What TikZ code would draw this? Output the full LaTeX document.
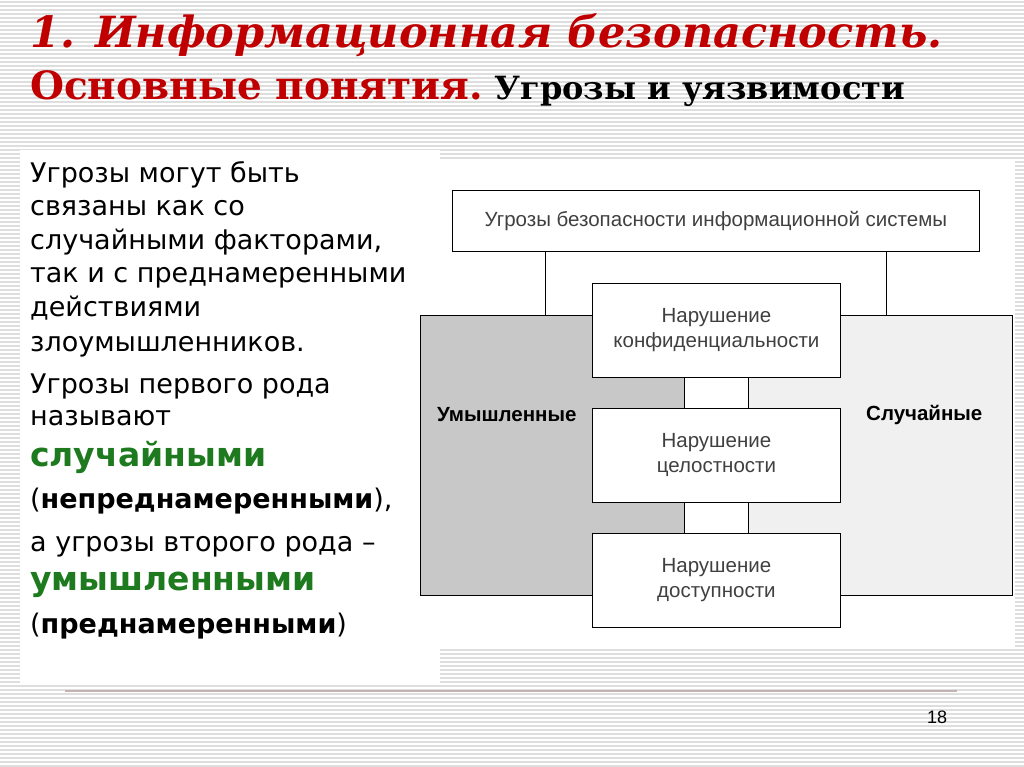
\documentclass[tikz,border=0pt]{standalone}
\usepackage{fontspec}
\setmainfont{DejaVu Serif}
\newfontfamily\djfont{DejaVu Sans}
\newfontfamily\lsfont{Liberation Sans}
\definecolor{tred}{HTML}{C00000}
\definecolor{tgreen}{HTML}{1E7A1E}
\definecolor{dgray}{HTML}{C8C8C8}
\definecolor{lgray}{HTML}{F0F0F0}
\begin{document}
\begin{tikzpicture}[x=1pt,y=-1pt,
  bx/.style={draw=black,line width=0.8pt,fill=white,inner sep=0pt},
  lbl/.style={font=\lsfont\fontsize{20.5}{25}\selectfont,text=black!75,align=center},
  tl/.style={anchor=base west,inner sep=0pt,font=\djfont\fontsize{27}{33}\selectfont},
  gr/.style={anchor=base west,inner sep=0pt,font=\djfont\bfseries\fontsize{33}{38}\selectfont,text=tgreen},
  ln/.style={line width=0.8pt}]
\useasboundingbox (0,0) rectangle (1024,767);
\fill[white] (0,0) rectangle (1024,767);
\foreach \y in {2,6,...,766} \draw[black!13,line width=1.2pt] (0,\y) -- (1024,\y);
\fill[white] (20,150) rectangle (440,683);
\fill[white] (405,160) rectangle (1015,648);
% title
\node[anchor=base west,inner sep=0pt,text=tred,font=\fontsize{43}{46}\selectfont\bfseries\itshape] (t1) at (30,48) {1. Информационная безопасность.};
\node[anchor=base west,inner sep=0pt,text=tred,font=\fontsize{39}{44}\selectfont\bfseries] (t2) at (30,100) {Основные понятия.};
\node[anchor=base west,inner sep=0pt,font=\fontsize{32}{36}\selectfont\bfseries] (t3) at (t2.base east) {\ Угрозы и уязвимости};
% left text
\begin{scope}
\clip (20,150) rectangle (440,683);
\node[tl] (l1) at (30,183) {Угрозы могут быть};
\node[tl] (l2) at (30,216) {связаны как со};
\node[tl] (l3) at (30,249) {случайными факторами,};
\node[tl] (l4) at (30,282) {так и с преднамеренными};
\node[tl] (l5) at (30,316) {действиями};
\node[tl] (l6) at (30,351) {злоумышленников.};
\node[tl] (l7) at (30,393) {Угрозы первого рода};
\node[tl] (l8) at (30,425) {называют};
\node[gr] (l9) at (30,466) {случайными};
\node[tl] (l10) at (30,508) {({\bfseries непреднамеренными}),};
\node[tl] (l11) at (30,551) {а угрозы второго рода –};
\node[gr] (l12) at (30,590) {умышленными};
\node[tl] (l13) at (30,633) {({\bfseries преднамеренными})};
\end{scope}
% diagram
\node[bx,minimum width=527,minimum height=61,anchor=north west,lbl] (top) at (452,190) {Угрозы безопасности информационной системы};
\node[draw=black,line width=0.8pt,fill=dgray,minimum width=264,minimum height=280,anchor=north west] (lft) at (420,315) {};
\node[draw=black,line width=0.8pt,fill=lgray,minimum width=264,minimum height=280,anchor=north west] (rgt) at (748,315) {};
\fill[white] (684,316) rectangle (748,594);
\draw[ln] (684,377) -- (684,408) (748,377) -- (748,408) (684,502) -- (684,533) (748,502) -- (748,533);
\draw[ln] (545,251) -- (545,315) (886,251) -- (886,315);
\node[font=\lsfont\bfseries\fontsize{20.5}{24}\selectfont,anchor=west,inner sep=0pt] (um) at (437,415) {Умышленные};
\node[font=\lsfont\bfseries\fontsize{20.5}{24}\selectfont,anchor=west,inner sep=0pt] (sl) at (866,415) {Случайные};
\node[bx,minimum width=248,minimum height=94,anchor=north west,lbl] (b1) at (592,283) {Нарушение\\конфиденциальности};
\node[bx,minimum width=248,minimum height=94,anchor=north west,lbl] (b2) at (592,408) {Нарушение\\целостности};
\node[bx,minimum width=248,minimum height=94,anchor=north west,lbl] (b3) at (592,533) {Нарушение\\доступности};
% footer
\draw[red!20!black!30,line width=2.5pt] (65,691) -- (957,691);
\node[font=\lsfont\fontsize{18}{20}\selectfont] (pg) at (937,717) {18};
\end{tikzpicture}
\end{document}
